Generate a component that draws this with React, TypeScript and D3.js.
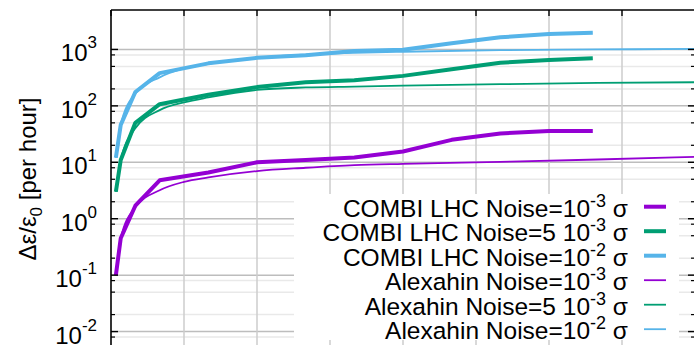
import React from 'react';
import * as d3 from 'd3';

// COMBI simulation points (x in arbitrary units, y in per hour)
const combiX = [0.1, 0.2, 0.5, 1, 2, 3, 4, 5, 6, 7, 8, 9, 9.9];
const combi1e3 = [0.1, 0.45, 1.7, 4.8, 6.6, 10, 11, 12.2, 15.5, 25, 32.5, 35.7, 36];
const combi5e3 = [3, 11, 50, 107, 157, 215, 261, 285, 340, 444, 580, 649, 695];
const combi1e2 = [12, 46, 176, 380, 567, 710, 790, 937, 990, 1283, 1640, 1875, 1980];

// Alexahin formula curves
const alexX = [0.1, 0.2, 0.5, 1, 1.5, 2, 3, 4, 5, 6, 8, 10, 12];
const alex1e3 = [0.1, 0.45, 1.6, 3.2, 4.5, 5.4, 7.0, 8.0, 8.9, 9.4, 10.2, 11.2, 12.5];
const alex5e3 = [3, 11, 40, 84, 115, 141, 192, 212, 220, 228, 242, 255, 262];
const alex1e2 = [12, 46, 165, 320, 460, 555, 713, 810, 870, 910, 970, 1000, 1020];

const legendPre = [
  'COMBI LHC Noise=10',
  'COMBI LHC Noise=5 10',
  'COMBI LHC Noise=10',
  'Alexahin Noise=10',
  'Alexahin Noise=5 10',
  'Alexahin Noise=10',
];
const legendSup = ['-3', '-3', '-2', '-3', '-3', '-2'];

const labelDecades = [-2, -1, 0, 1, 2, 3];
const decades = [-3, -2, -1, 0, 1, 2, 3];
const minorMult = [2, 5, 8];

const PURPLE = '#9400d3';
const GREEN = '#009e73';
const BLUE = '#56b4e9';

const series = [
  { xs: combiX, ys: combi1e3, color: PURPLE, w: 4, smooth: false },
  { xs: combiX, ys: combi5e3, color: GREEN, w: 4, smooth: false },
  { xs: combiX, ys: combi1e2, color: BLUE, w: 4, smooth: false },
  { xs: alexX, ys: alex1e3, color: PURPLE, w: 1.8, smooth: true },
  { xs: alexX, ys: alex5e3, color: GREEN, w: 1.8, smooth: true },
  { xs: alexX, ys: alex1e2, color: BLUE, w: 1.8, smooth: true },
];

const App: React.FC = () => {
  const width = 700;
  const height = 400;
  const left = 111, right = 695, top = 10, bottom = 388;

  const x = d3.scaleLinear().domain([0, 12]).range([left, right]);
  const y = d3.scaleLog().domain([1e-3, 5000]).range([bottom, top]);

  const xGrid = d3.range(0, 12.01, 1.5);
  const minors: number[] = [];
  decades.forEach(d => minorMult.forEach(m => {
    const v = m * Math.pow(10, d - 1);
    if (v > 1e-3 && v < 5000) minors.push(v);
  }));
  const majors = decades.map(d => Math.pow(10, d));

  const font = '"Liberation Sans", Arial, "DejaVu Sans", sans-serif';

  // legend box
  const legBox = { x0: 294, x1: 679, y0: 194, y1: 340 };
  const rowY = (i: number) => 206.7 + i * 24.5;

  return (
    <svg width={width} height={height} style={{ position: 'absolute', left: 0, top: 0, background: '#fff' }}
      fontFamily={font}>
      <defs>
        <clipPath id="plot">
          <rect x={left} y={top} width={right - left} height={bottom - top} />
        </clipPath>
      </defs>

      {/* grid */}
      {minors.map(v => (
        <line key={'mg' + v} x1={left} x2={right} y1={y(v)} y2={y(v)} stroke="#e9e9e9" strokeWidth={1.5} />
      ))}
      {majors.map(v => (
        <line key={'Mg' + v} x1={left} x2={right} y1={y(v)} y2={y(v)} stroke="#bdbdbd" strokeWidth={1.5} />
      ))}
      {xGrid.slice(1, -1).map(v => (
        <line key={'xg' + v} x1={x(v)} x2={x(v)} y1={top} y2={bottom} stroke="#cccccc" strokeWidth={1.5} />
      ))}

      {/* legend background */}
      <rect x={legBox.x0} y={legBox.y0} width={legBox.x1 - legBox.x0} height={legBox.y1 - legBox.y0} fill="#fff" />

      {/* curves */}
      <g clipPath="url(#plot)">
        {series.map((s, i) => {
          const pts: [number, number][] = s.xs.map((xv, j) => [x(xv), y(s.ys[j])]);
          const gen = d3.line().curve(s.smooth ? d3.curveMonotoneX : d3.curveLinear);
          return (
            <path key={'s' + i} d={gen(pts) || ''} fill="none" stroke={s.color} strokeWidth={s.w}
              strokeLinejoin="round" />
          );
        })}
      </g>

      {/* border */}
      <line x1={left} x2={left} y1={top} y2={bottom} stroke="#000" strokeWidth={1.6} />
      <line x1={left} x2={right} y1={top} y2={top} stroke="#000" strokeWidth={1.6} />
      <line x1={right} x2={right} y1={top} y2={bottom} stroke="#000" strokeWidth={1.6} />

      {/* ticks */}
      {majors.map(v => (
        <g key={'Mt' + v}>
          <line x1={left} x2={left + 7} y1={y(v)} y2={y(v)} stroke="#000" strokeWidth={1.4} />
          <line x1={right} x2={right - 7} y1={y(v)} y2={y(v)} stroke="#000" strokeWidth={1.4} />
        </g>
      ))}
      {minors.map(v => (
        <g key={'mt' + v}>
          <line x1={left} x2={left + 4} y1={y(v)} y2={y(v)} stroke="#000" strokeWidth={1.2} />
          <line x1={right} x2={right - 4} y1={y(v)} y2={y(v)} stroke="#000" strokeWidth={1.2} />
        </g>
      ))}
      {xGrid.map(v => (
        <line key={'xt' + v} x1={x(v)} x2={x(v)} y1={top} y2={top + 6} stroke="#000" strokeWidth={1.4} />
      ))}

      {/* y tick labels */}
      {labelDecades.map(d => (
        <text key={'yl' + d} x={97} y={y(Math.pow(10, d)) + 12} textAnchor="end" fontSize={24} fill="#000">
          <tspan>10</tspan>
          <tspan dy={-13} fontSize={17}>{String(d)}</tspan>
        </text>
      ))}

      {/* y axis label */}
      <text transform={`translate(36,179) rotate(-90)`} textAnchor="middle" fontSize={24} fill="#000">
        <tspan>Δε/ε</tspan>
        <tspan dy={6} fontSize={17}>0</tspan>
        <tspan dy={-6}> [per hour]</tspan>
      </text>

      {/* legend */}
      {legendPre.map((t, i) => (
        <g key={'lg' + i}>
          <text x={628} y={rowY(i) + 10} textAnchor="end" fontSize={24.5} fill="#000">
            <tspan>{t}</tspan>
            <tspan dy={-10} fontSize={18}>{legendSup[i]}</tspan>
            <tspan dy={10}> σ</tspan>
          </text>
          <line x1={644} x2={666} y1={rowY(i)} y2={rowY(i)} stroke={series[i].color} strokeWidth={series[i].w} />
        </g>
      ))}
    </svg>
  );
};

export default App;
